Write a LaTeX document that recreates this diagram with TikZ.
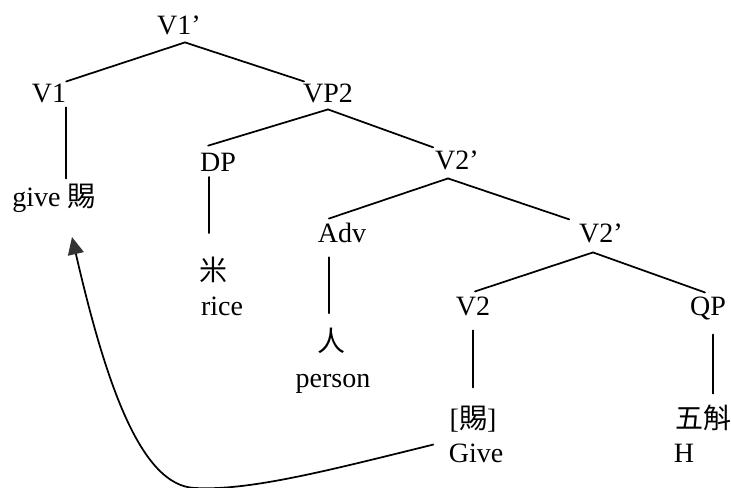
\documentclass[tikz,border=0pt]{standalone}
\usepackage{fontspec}
\setmainfont{Liberation Serif}
\newfontfamily\cjk{Noto Sans CJK TC}
\usetikzlibrary{calc,arrows.meta}
\begin{document}
\begin{tikzpicture}[x=0.75pt,y=-0.75pt,
  lbl/.style={font=\fontsize{21}{24}\selectfont, inner sep=0pt, outer sep=0pt, anchor=base},
  branch/.style={line width=1.3pt, line cap=round},
  movearrow/.style={line width=1.3pt, -{Triangle[length=13pt,width=12pt,fill=black!80,color=black!80]}}]
\useasboundingbox (0,0) rectangle (731,488);

% labels (positions are base points)
\node[lbl] (v1bar)  at (179,35)  {V1’};
\node[lbl] (v1)     at (49,103)  {V1};
\node[lbl] (vp2)    at (328,103) {VP2};
\node[lbl] (give)   at (54,207)  {give {\cjk 賜}};
\node[lbl] (dp)     at (218,172) {DP};
\node[lbl] (v2bara) at (457,170) {V2’};
\node[lbl] (mi)     at (213,280) {\cjk 米};
\node[lbl] (rice)   at (222,315) {rice};
\node[lbl] (adv)    at (342,243) {Adv};
\node[lbl] (ren)    at (331,351) {\cjk 人};
\node[lbl] (person) at (333,387) {person};
\node[lbl] (v2barb) at (601,243) {V2’};
\node[lbl] (v2)     at (473,315) {V2};
\node[lbl] (qp)     at (708,315) {QP};
\node[lbl] (ci)     at (473,428) {[{\cjk 賜}]};
\node[lbl] (givecap) at (476,462) {Give};
\node[lbl] (wuhu)   at (703,428) {\cjk 五斛};
\node[lbl] (h)      at (684,462) {H};

% branches
\draw[branch] ($(v1bar.south)+(6,7)$) -- ($(v1.north east)+(0,-3)$);
\draw[branch] ($(v1bar.south)+(6,7)$) -- ($(vp2.north west)+(1,-3)$);
\draw[branch] ($(vp2.south)+(0,6)$) -- ($(dp.north west)+(8,-8)$);
\draw[branch] ($(vp2.south)+(0,6)$) -- ($(v2bara.north west)+(-2,-4)$);
\draw[branch] ($(v2bara.south)+(-9,8)$) -- ($(adv.north west)+(11,-5)$);
\draw[branch] ($(v2bara.south)+(-9,8)$) -- ($(v2barb.north west)+(-10,-5)$);
\draw[branch] ($(v2barb.south)+(-8,9)$) -- ($(v2.north)+(2,-5)$);
\draw[branch] ($(v2barb.south)+(-8,9)$) -- ($(qp.north)+(-3,-4)$);

% unary lines down to the words
\draw[branch] ($(v1.south east)+(0,4)$) -- ($(v1.south east)+(0,75)$);
\draw[branch] ($(dp.south)+(-9,5)$) -- ($(dp.south)+(-9,61)$);
\draw[branch] ($(adv.south)+(-13,14)$) -- ($(adv.south)+(-13,70)$);
\draw[branch] ($(v2.south)+(0,15)$) -- ($(v2.south)+(0,72)$);
\draw[branch] ($(qp.south)+(5,15)$) -- ($(qp.south)+(5,74)$);

% head movement of the verb
\coordinate (bend) at (195,488);
\draw[movearrow] ($(givecap.north west)+(-15,1)$)
  .. controls (330,470) and (250,491) .. (bend)
  .. controls (140,486) and (105,380) .. ($(give.south)+(18,24)$);
\end{tikzpicture}
\end{document}
